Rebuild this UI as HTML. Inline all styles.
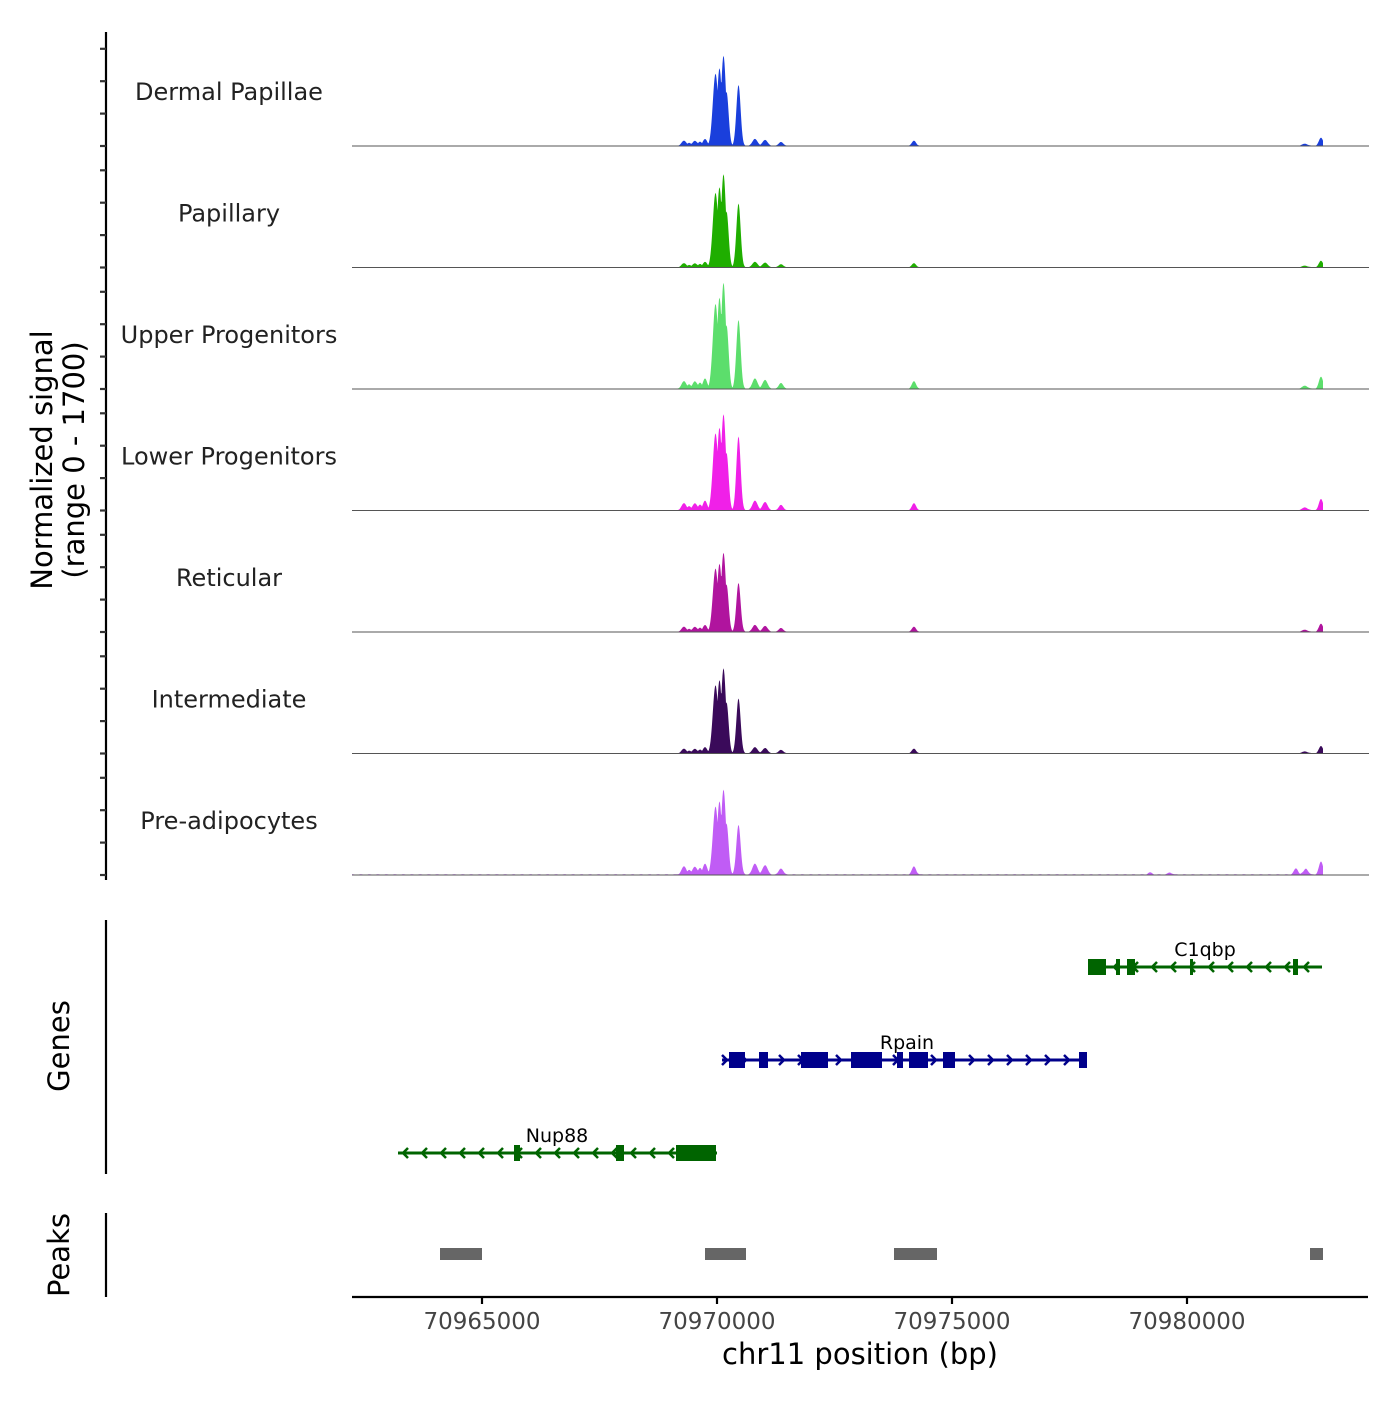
<!DOCTYPE html>
<html><head><meta charset="utf-8"><style>body{margin:0;background:#fff}svg text{font-family:"DejaVu Sans","Liberation Sans",sans-serif}</style></head>
<body>
<svg id="s" width="1400" height="1400" viewBox="0 0 1400 1400" xmlns="http://www.w3.org/2000/svg">
<rect width="1400" height="1400" fill="#fff"/>
<g id="tracks"></g>
<g stroke="#000" stroke-width="2.2">
<line x1="106" y1="32" x2="106" y2="880"/>
<line x1="106" y1="920" x2="106" y2="1174"/>
<line x1="106" y1="1213" x2="106" y2="1297"/>
<line x1="352" y1="1297" x2="1368" y2="1297"/>
<line x1="482" y1="1297" x2="482" y2="1304"/><line x1="717" y1="1297" x2="717" y2="1304"/><line x1="952" y1="1297" x2="952" y2="1304"/><line x1="1187" y1="1297" x2="1187" y2="1304"/>
</g>
<g id="ticks" stroke="#333" stroke-width="2.2"></g>
<g font-size="23" fill="#444" text-anchor="middle">
<text x="482" y="1329">70965000</text><text x="717" y="1329">70970000</text><text x="952" y="1329">70975000</text><text x="1187" y="1329">70980000</text>
</g>
<text x="860" y="1364" font-size="29" text-anchor="middle">chr11 position (bp)</text>
<text transform="translate(52,460) rotate(-90)" font-size="29" text-anchor="middle">Normalized signal</text>
<text transform="translate(84,460) rotate(-90)" font-size="29" text-anchor="middle">(range 0 - 1700)</text>
<text transform="translate(69,1046) rotate(-90)" font-size="29" text-anchor="middle">Genes</text>
<text transform="translate(69,1255) rotate(-90)" font-size="29" text-anchor="middle">Peaks</text>
<g id="genes"></g>
<g fill="#666"><rect x="440" y="1248" width="42" height="12"/><rect x="705" y="1248" width="41" height="12"/><rect x="894" y="1248" width="43" height="12"/><rect x="1310" y="1248" width="13" height="12"/></g>
</svg>
<script>
var T=[["Dermal Papillae","#1a3fdc",90,61,1],["Papillary","#1fae00",93,64,0.8],["Upper Progenitors","#5cde6c",106,69,1.5],["Lower Progenitors","#f020e8",96,74,1.4],["Reticular","#b0149e",79,49,1],["Intermediate","#3a0a5a",85,55,0.9],["Pre-adipocytes","#c05cf5",85,50,1.6]];
function g(x,c,w,h){return h*Math.exp(-Math.pow((x-c)/w,2));}
var tr=document.getElementById("tracks"),tk=document.getElementById("ticks"),s="";
T.forEach(function(t,i){
 var b=146+i*121.5,m=t[2],m2=t[3],k=t[4],d="M352,"+b;
 for(var x=352;x<=1323;x+=0.5){
  var h=Math.max(g(x,715.5,3.8,m*0.8),g(x,719.5,3.4,m*0.86),g(x,723.5,3.4,m),g(x,726.5,3,m*0.6),g(x,738.5,3,m2));
  var sm=k*Math.max(g(x,684,3.5,5),g(x,689,3,3),g(x,695,3.5,5),g(x,700,3,4),g(x,705,3,7),g(x,755,3.5,7),g(x,765,3.5,6),g(x,781,3,4),g(x,914,3,5),g(x,1321,3,8),g(x,1305,4,2));
  h=Math.max(h,sm);
  if(i==6)h=Math.max(h,g(x,1296,3,6),g(x,1306,3,6),g(x,1150,3,2),g(x,1170,3,2));
  h+=0.7*Math.abs(Math.sin(x*0.37))*(i==6?1:0.5);
  d+=" L"+x+","+(b-h).toFixed(1);
 }
 d+=" L1323,"+b+" Z";
 s+='<path d="'+d+'" fill="'+t[1]+'"/><line x1="352" y1="'+b+'" x2="1369" y2="'+b+'" stroke="#555" stroke-width="1"/>';
 s+='<text x="229" y="'+(b-46)+'" font-size="24" text-anchor="middle" fill="#222">'+t[0]+'</text>';
 for(var j=0;j<4;j++){var y=b-j*32.4;tk.innerHTML+='<line x1="100" y1="'+y+'" x2="106" y2="'+y+'"/>';}
});
tr.innerHTML=s;
var G=[["C1qbp",967,1090,1322,"#006400",-1,1205,[[1088,1106],[1116,1120],[1127,1135],[1190,1193],[1293,1298]]],
["Rpain",1060,722,1087,"#00008b",1,907,[[729,745],[759,768],[801,828],[851,882],[897,903],[909,928],[943,955],[1079,1087]]],
["Nup88",1153,398,717,"#006400",-1,557,[[676,716],[616,624],[514,520]]]];
var gs="";
G.forEach(function(q){
 var y=q[1],c=q[4];
 gs+='<line x1="'+q[2]+'" y1="'+y+'" x2="'+q[3]+'" y2="'+y+'" stroke="'+c+'" stroke-width="3"/>';
 for(var x=q[2]+5;x<q[3];x+=19){var dx=q[5]*5;gs+='<polyline points="'+(x-dx)+','+(y-5)+' '+x+','+y+' '+(x-dx)+','+(y+5)+'" fill="none" stroke="'+c+'" stroke-width="2.5"/>';}
 q[7].forEach(function(e){gs+='<rect x="'+e[0]+'" y="'+(y-8)+'" width="'+(e[1]-e[0])+'" height="16" fill="'+c+'"/>';});
 gs+='<text x="'+q[6]+'" y="'+(y-11)+'" font-size="19" text-anchor="middle">'+q[0]+'</text>';
});
document.getElementById("genes").innerHTML=gs;
</script>
</body></html>
